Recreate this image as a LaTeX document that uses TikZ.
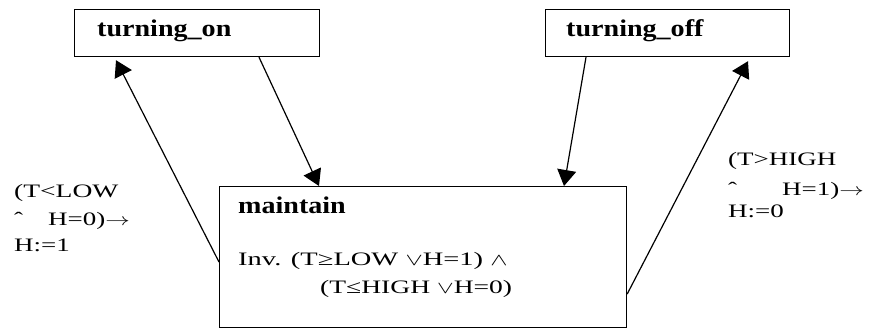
\documentclass[tikz,border=0pt]{standalone}
\usepackage{fontspec}
\setmainfont{Liberation Serif}
\usetikzlibrary{arrows.meta,calc}

% the labels are set in a horizontally widened serif
\newcommand\widetext[2][1.42]{\scalebox{#1}[1]{#2}}
\newcommand\widestate[1]{\scalebox{1.17}[1]{#1}}

\tikzset{
  statebox/.style={draw, line width=1.2pt, inner sep=0pt, anchor=north west},
  txt/.style={anchor=base west, inner sep=0pt, font=\fontsize{19}{22}\selectfont},
  statename/.style={anchor=base west, inner sep=0pt, font=\bfseries\fontsize{24}{28}\selectfont},
  trans/.style={line width=1.2pt, -{Triangle[length=16pt,width=19pt]}}
}

\begin{document}
\begin{tikzpicture}[x=1pt, y=-1pt]
  \useasboundingbox (0,0) rectangle (870,329);

  % states
  \node[statebox, minimum width=245pt, minimum height=47pt] (on) at (74,9) {};
  \node[statebox, minimum width=244pt, minimum height=47pt] (off) at (545,9) {};
  \node[statebox, minimum width=407pt, minimum height=141pt] (maintain) at (219,186) {};

  \node[statename] (onname) at (97,37) {\widestate{turning\_on}};
  \node[statename] (offname) at (566,37) {\widestate{turning\_off}};
  \node[statename] (mname) at (238,213) {\widestate{maintain}};

  % invariant of the maintain state
  \node[txt] (inv1) at (238,265) {\widetext[1.5]{Inv. (T≥LOW $\vee$H=1) $\wedge$}};
  \node[txt] (inv2) at (320,293) {\widetext[1.45]{(T≤HIGH $\vee$H=0)}};

  % transitions
  \draw[trans] ($(maintain.north west)+(0,76)$) -- ($(on.south west)+(42,3)$);
  \draw[trans] ($(on.south west)+(185,0)$) -- ($(maintain.north west)+(100,0)$);
  \draw[trans] ($(off.south west)+(41,0)$) -- ($(maintain.north west)+(345,0)$);
  \draw[trans] ($(maintain.north east)+(0,108)$) -- ($(off.south west)+(203,4)$);

  % guard and action labels
  \node[txt] (l1) at (14,197) {\widetext[1.45]{(T<LOW}};
  \node[txt] (l2a) at (14,225) {\widetext{ˆ}};
  \node[txt] (l2b) at (48,225) {\widetext{H=0)$\rightarrow$}};
  \node[txt] (l3) at (14,251) {\widetext{H:=1}};

  \node[txt] (r1) at (728,165) {\widetext{(T>HIGH}};
  \node[txt] (r2a) at (728,195) {\widetext{ˆ}};
  \node[txt] (r2b) at (782,195) {\widetext{H=1)$\rightarrow$}};
  \node[txt] (r3) at (728,217) {\widetext{H:=0}};
\end{tikzpicture}
\end{document}
